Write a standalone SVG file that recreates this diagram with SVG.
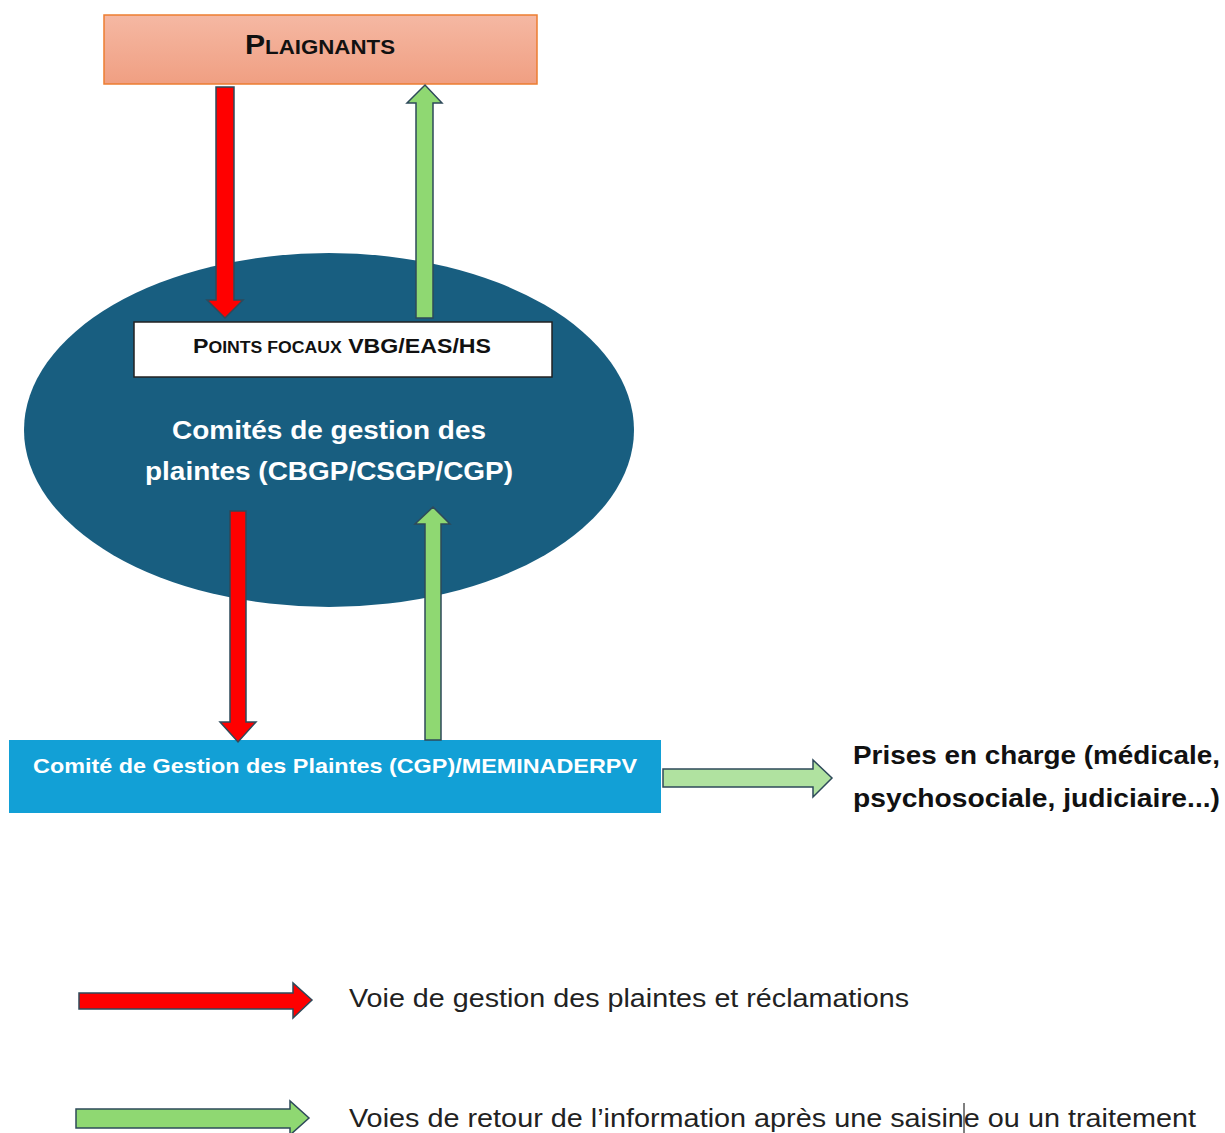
<svg xmlns="http://www.w3.org/2000/svg" width="1225" height="1133" viewBox="0 0 1225 1133">
<defs>
<linearGradient id="salmon" x1="0" y1="0" x2="0" y2="1">
<stop offset="0" stop-color="#f5b8a3"/>
<stop offset="1" stop-color="#f09f82"/>
</linearGradient>
</defs>
<style>
.red{fill:#ff0000;stroke:#2e4a5a;stroke-width:1.5}
.green{fill:#8fd872;stroke:#2e4a5a;stroke-width:1.5}
.lgreen{fill:#b0e2a0;stroke:#2e4a5a;stroke-width:1.5}
.b{font-family:"Liberation Sans",Arial,sans-serif;font-weight:bold}
.r{font-family:"Liberation Sans",Arial,sans-serif}
</style>
<rect width="1225" height="1133" fill="#ffffff"/>
<g id="plaignants">
<rect x="104" y="15" width="433" height="69" fill="url(#salmon)" stroke="#ed7d31" stroke-width="1.5"/>
<text x="245" y="54" class="b" fill="#111" textLength="150" lengthAdjust="spacingAndGlyphs"><tspan font-size="27">P</tspan><tspan font-size="20">LAIGNANTS</tspan></text>
</g>
<g id="comites">
<ellipse cx="329" cy="430" rx="305" ry="177" fill="#185e80"/>
<text x="172" y="439" class="b" font-size="26" fill="#ffffff" textLength="314" lengthAdjust="spacingAndGlyphs">Comités de gestion des</text>
<text x="145" y="480" class="b" font-size="26" fill="#ffffff" textLength="368" lengthAdjust="spacingAndGlyphs">plaintes (CBGP/CSGP/CGP)</text>
</g>
<g id="points-focaux">
<rect x="134" y="322" width="418" height="55" fill="#ffffff" stroke="#222" stroke-width="1.5"/>
<text x="193" y="353" class="b" fill="#111" textLength="298" lengthAdjust="spacingAndGlyphs"><tspan font-size="21">P</tspan><tspan font-size="16">OINTS FOCAUX</tspan><tspan font-size="21"> VBG/EAS/HS</tspan></text>
</g>
<g id="cgp-meminaderpv">
<rect x="9" y="740" width="652" height="73" fill="#12a0d6"/>
<text x="33" y="773" class="b" font-size="21" fill="#ffffff" textLength="604" lengthAdjust="spacingAndGlyphs">Comité de Gestion des Plaintes (CGP)/MEMINADERPV</text>
</g>
<g id="prises-en-charge">
<text x="853" y="764" class="b" font-size="26" fill="#111" textLength="367" lengthAdjust="spacingAndGlyphs">Prises en charge (médicale,</text>
<text x="853" y="807" class="b" font-size="26" fill="#111" textLength="367" lengthAdjust="spacingAndGlyphs">psychosociale, judiciaire...)</text>
</g>
<g id="connectors">
<polygon class="red" points="216,87 234,87 234,300 243,300 225,318 207,300 216,300"/>
<polygon class="green" points="416,318 433,318 433,103 442,103 425,85 407,103 416,103"/>
<polygon class="red" points="230,511 246,511 246,722 256,722 238,742 220,722 230,722"/>
<polygon class="green" points="425,740 441,740 441,524 450,524 433,507 415,524 425,524"/>
<polygon class="lgreen" points="663,769 813,769 813,760 832,778 813,797 813,787 663,787"/>
</g>
<g id="legend">
<polygon class="red" points="79,993 293,993 293,983 312,1000 293,1018 293,1009 79,1009"/>
<text x="349" y="1007" class="r" font-size="26" fill="#222" textLength="560" lengthAdjust="spacingAndGlyphs">Voie de gestion des plaintes et réclamations</text>
<polygon class="green" points="76,1109 290,1109 290,1101 309,1118 290,1135 290,1128 76,1128"/>
<text x="349" y="1127" class="r" font-size="26" fill="#222" textLength="847" lengthAdjust="spacingAndGlyphs">Voies de retour de l’information après une saisine ou un traitement</text>
<line x1="964" y1="1103" x2="964" y2="1133" stroke="#000" stroke-width="1"/>
</g>
</svg>
